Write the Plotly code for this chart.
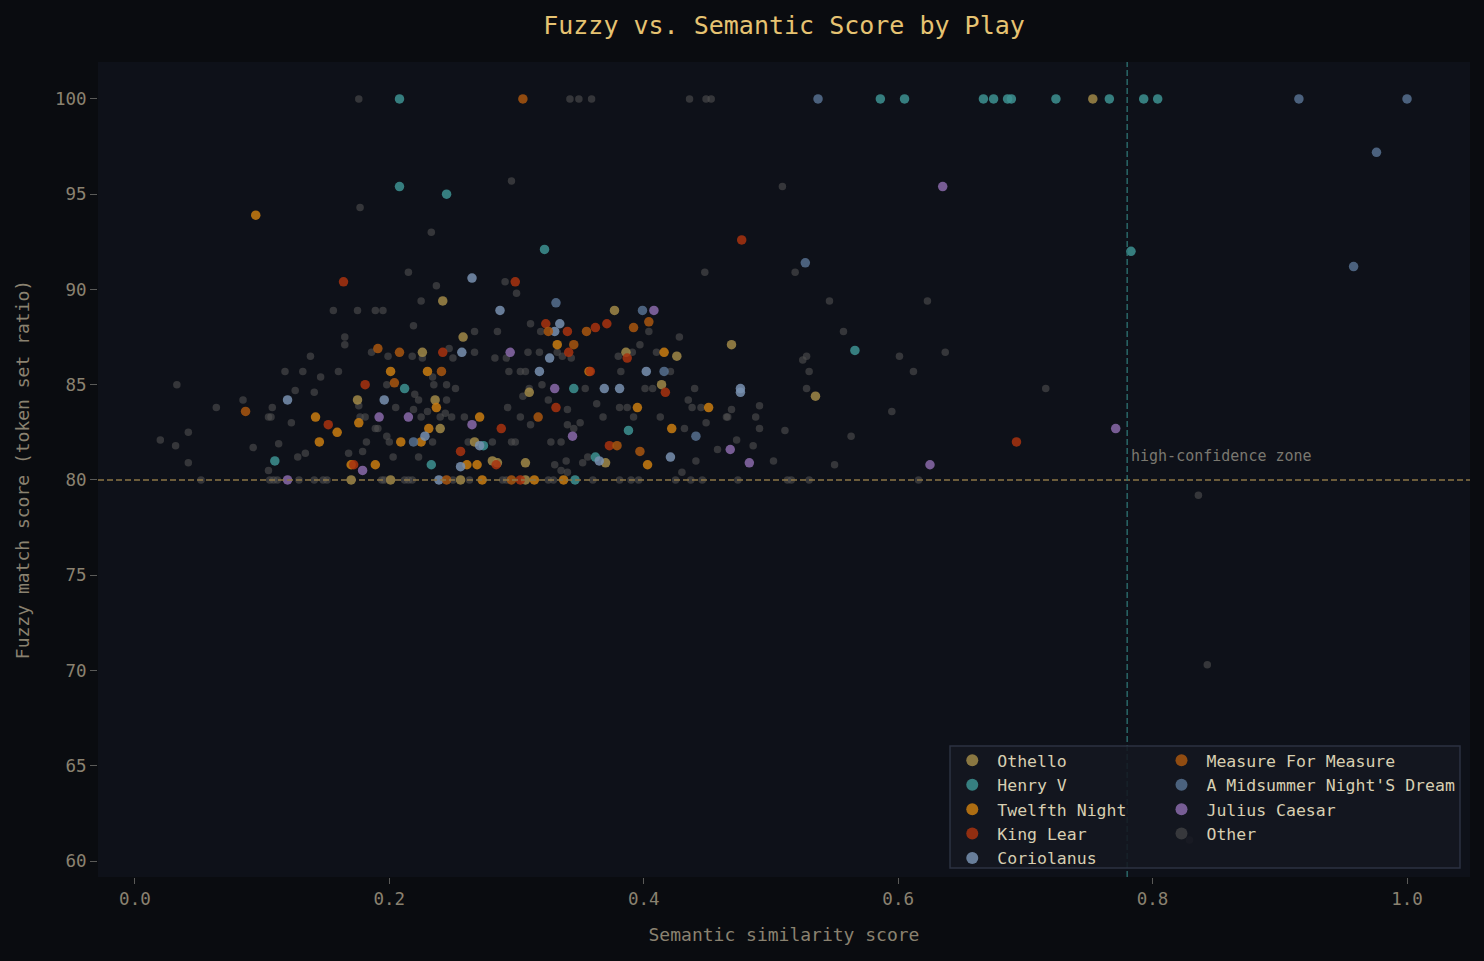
import plotly.graph_objects as go

FONT = "DejaVu Sans Mono"

othello_x = [0.753, 0.242, 0.258, 0.226, 0.175, 0.236, 0.240, 0.267, 0.170, 0.201, 0.256, 0.377, 0.386,
             0.426, 0.414, 0.310, 0.281, 0.285, 0.307, 0.370, 0.469, 0.535, 0.307]
othello_y = [100, 89.4, 87.5, 86.7, 84.2, 84.2, 82.7, 82.0, 80.0, 80.0, 80.0, 88.9, 86.7,
             86.5, 85.0, 84.6, 81.0, 80.9, 80.9, 80.9, 87.1, 84.4, 80.0]

henry_x = [0.208, 0.586, 0.605, 0.667, 0.675, 0.686, 0.689, 0.724, 0.766, 0.793, 0.804,
           0.208, 0.245, 0.322, 0.783, 0.566, 0.212, 0.110, 0.233, 0.274, 0.345, 0.388, 0.362, 0.346]
henry_y = [100, 100, 100, 100, 100, 100, 100, 100, 100, 100, 100,
           95.4, 95.0, 92.1, 92.0, 86.8, 84.8, 81.0, 80.8, 81.8, 84.8, 82.6, 81.2, 80.0]

twelfth_x = [0.095, 0.201, 0.230, 0.237, 0.142, 0.159, 0.176, 0.231, 0.145, 0.209, 0.225, 0.170, 0.189,
             0.261, 0.269, 0.273, 0.332, 0.416, 0.357, 0.395, 0.451, 0.422, 0.271, 0.403, 0.314, 0.337]
twelfth_y = [93.9, 85.7, 85.7, 83.8, 83.3, 82.5, 83.0, 82.7, 82.0, 82.0, 82.0, 80.8, 80.8,
             80.8, 80.8, 80.0, 87.1, 86.7, 85.7, 83.8, 83.8, 82.7, 83.3, 80.8, 80.0, 80.0]

lear_x = [0.164, 0.299, 0.477, 0.242, 0.181, 0.152, 0.256, 0.172, 0.323, 0.362, 0.371, 0.340, 0.341,
          0.387, 0.358, 0.417, 0.331, 0.288, 0.284, 0.373, 0.693, 0.303]
lear_y = [90.4, 90.4, 92.6, 86.7, 85.0, 82.9, 81.5, 80.8, 88.2, 88.0, 88.2, 87.8, 86.7,
          86.4, 85.7, 84.6, 83.8, 82.7, 80.8, 81.8, 82.0, 80.0]

coriolanus_x = [0.265, 0.287, 0.257, 0.196, 0.228, 0.271, 0.256, 0.239, 0.330, 0.326, 0.318, 0.402,
                0.369, 0.381, 0.365, 0.421, 0.476, 0.476, 0.334, 0.120]
coriolanus_y = [90.6, 88.9, 86.7, 84.2, 82.3, 81.8, 80.7, 80.0, 87.8, 86.4, 85.7, 85.7,
                84.8, 84.8, 81.0, 81.2, 84.8, 84.6, 88.2, 84.2]

measure_x = [0.305, 0.087, 0.191, 0.208, 0.241, 0.204, 0.245, 0.392, 0.404, 0.325, 0.345, 0.355,
             0.317, 0.379, 0.397, 0.296]
measure_y = [100, 83.6, 86.9, 86.7, 85.7, 85.1, 80.0, 88.0, 88.3, 87.8, 87.1, 87.8,
             83.3, 81.8, 81.5, 80.0]

midsummer_x = [0.537, 0.915, 1.0, 0.976, 0.958, 0.527, 0.331, 0.399, 0.219, 0.416, 0.441]
midsummer_y = [100, 100, 100, 97.2, 91.2, 91.4, 89.3, 88.9, 82.0, 85.7, 82.3]

julius_x = [0.635, 0.408, 0.295, 0.192, 0.215, 0.265, 0.179, 0.120, 0.330, 0.344, 0.468, 0.483, 0.625, 0.771]
julius_y = [95.4, 88.9, 86.7, 83.3, 83.3, 82.9, 80.5, 80.0, 84.8, 82.3, 81.6, 80.9, 80.8, 82.7]

other_x = [0.176, 0.342, 0.349, 0.359, 0.436, 0.449, 0.453,
           0.296, 0.177, 0.233, 0.215, 0.509,
           0.448, 0.519, 0.546, 0.623, 0.557, 0.601, 0.637, 0.528, 0.525, 0.530, 0.612, 0.716, 0.528,
           0.469, 0.491, 0.466, 0.488, 0.449, 0.491, 0.595, 0.511, 0.563, 0.473, 0.486, 0.458, 0.502, 0.550,
           0.446, 0.474, 0.513, 0.516, 0.530, 0.616,
           0.836, 0.843, 0.829,
           0.237, 0.225, 0.156, 0.175, 0.189, 0.195, 0.267, 0.219, 0.165, 0.165, 0.247, 0.186, 0.199,
           0.218, 0.226, 0.250, 0.267, 0.138, 0.033, 0.118, 0.132, 0.160, 0.146, 0.198, 0.234, 0.235,
           0.245, 0.252, 0.126, 0.141, 0.085, 0.176, 0.220, 0.223, 0.245, 0.064, 0.108, 0.205, 0.219,
           0.230, 0.244, 0.105, 0.107, 0.177, 0.181, 0.225, 0.240, 0.249, 0.259, 0.189, 0.191, 0.123,
           0.020, 0.032, 0.042, 0.093, 0.113, 0.198, 0.200, 0.182, 0.234, 0.262, 0.042, 0.128, 0.134,
           0.105, 0.168, 0.179, 0.203, 0.223,
           0.052, 0.106, 0.109, 0.112, 0.129, 0.141, 0.148, 0.151, 0.194, 0.196, 0.212, 0.215, 0.218,
           0.250, 0.263,
           0.291, 0.300, 0.311, 0.285, 0.309, 0.319, 0.318, 0.332, 0.336, 0.343, 0.283, 0.292, 0.428,
           0.404, 0.397, 0.380, 0.391, 0.410, 0.294, 0.303, 0.307, 0.421, 0.382, 0.354, 0.440, 0.320,
           0.310, 0.305, 0.401, 0.407, 0.363, 0.435, 0.438, 0.445, 0.340, 0.381, 0.387, 0.293, 0.325,
           0.303, 0.368, 0.392, 0.413, 0.432, 0.465, 0.350, 0.340, 0.345, 0.311, 0.299, 0.296, 0.281,
           0.327, 0.335, 0.430, 0.441, 0.330, 0.335, 0.340, 0.339, 0.352, 0.356,
           0.289, 0.292, 0.325, 0.329, 0.360, 0.381, 0.390, 0.396, 0.425, 0.437]
other_y = [100, 100, 100, 100, 100, 100, 100,
           95.7, 94.3, 93.0, 90.9, 95.4,
           90.9, 90.9, 89.4, 89.4, 87.8, 86.5, 86.7, 86.5, 86.3, 85.7, 85.7, 84.8, 84.8,
           83.7, 83.9, 83.3, 83.3, 83.0, 82.7, 83.6, 82.6, 82.3, 82.1, 81.8, 81.6, 81.0, 80.8,
           80.0, 80.0, 80.0, 80.0, 80.0, 80.0,
           79.2, 70.3, 61.1,
           90.2, 89.4, 88.9, 88.9, 88.9, 88.9, 87.8, 88.1, 87.5, 87.1, 86.9, 86.7, 86.5,
           86.5, 86.4, 86.4, 86.7, 86.5, 85.0, 85.7, 85.7, 85.7, 85.4, 85.0, 85.4, 85.0,
           85.0, 84.8, 84.7, 84.6, 84.2, 83.9, 84.5, 84.2, 84.2, 83.8, 83.8, 83.8, 83.7,
           83.6, 83.5, 83.3, 83.3, 83.3, 83.3, 83.3, 83.3, 83.3, 83.3, 82.7, 82.7, 83.0,
           82.1, 81.8, 82.5, 81.7, 81.9, 82.3, 82.0, 82.0, 82.0, 82.0, 80.9, 81.2, 81.4,
           80.5, 81.4, 81.5, 81.2, 81.2,
           80.0, 80.0, 80.0, 80.0, 80.0, 80.0, 80.0, 80.0, 80.0, 80.0, 80.0, 80.0, 80.0,
           80.0, 80.0,
           90.4, 89.8, 88.2, 87.8, 86.7, 87.8, 86.7, 86.7, 86.5, 86.4, 86.4, 86.4, 87.5,
           87.8, 87.1, 86.5, 86.7, 86.7, 85.7, 85.7, 85.7, 85.7, 85.7, 84.8, 84.8, 85.0,
           84.8, 84.4, 84.8, 84.8, 84.0, 84.2, 83.8, 83.8, 83.7, 83.8, 83.8, 83.8, 84.2,
           83.3, 83.3, 83.3, 83.3, 82.7, 83.3, 83.0, 82.9, 82.7, 82.9, 82.0, 82.0, 82.0,
           82.0, 82.0, 80.4, 81.0, 80.8, 80.5, 80.4, 81.0, 80.9, 81.2,
           80.0, 80.0, 80.0, 80.0, 80.0, 80.0, 80.0, 80.0, 80.0, 80.0]

plays = ["Othello", "Henry V", "Twelfth Night", "King Lear", "Coriolanus",
         "Measure For Measure", "A Midsummer Night'S Dream", "Julius Caesar", "Other"]
xs = [othello_x, henry_x, twelfth_x, lear_x, coriolanus_x, measure_x, midsummer_x, julius_x, other_x]
ys = [othello_y, henry_y, twelfth_y, lear_y, coriolanus_y, measure_y, midsummer_y, julius_y, other_y]
colors = ["#a08848", "#3d9292", "#c97c10", "#a8320f", "#7890b0", "#a8560f", "#56708f", "#8a6aaa", "#505050"]

x_ticks = [0.0, 0.2, 0.4, 0.6, 0.8, 1.0]
y_ticks = [60, 65, 70, 75, 80, 85, 90, 95, 100]
fuzzy_threshold = 80
semantic_threshold = 0.78

fig = go.Figure()
# "Other" drawn first (behind)
order = [8, 0, 1, 2, 3, 4, 5, 6, 7]
for i in order:
    is_other = plays[i] == "Other"
    fig.add_trace(go.Scatter(
        x=xs[i], y=ys[i], mode="markers", name=plays[i],
        marker=dict(color=colors[i], size=7.5 if is_other else 9.5,
                    opacity=0.6 if is_other else 0.85, line=dict(width=0)),
        legend="legend" if i < 5 else "legend2",
        legendrank=i + 1,
    ))

axis_font = dict(family=FONT, size=17.5, color="#8a8270")
title_font = dict(family=FONT, size=18, color="#8a8270")
legend_font = dict(family=FONT, size=16.5, color="#d8cfb2")
fig.update_layout(
    width=1484, height=961,
    paper_bgcolor="#0a0c10", plot_bgcolor="#0e1119",
    margin=dict(l=98, r=14, t=62, b=84),
    title=dict(text="Fuzzy vs. Semantic Score by Play", x=0.5, xref="paper",
               y=1 - 25 / 961, yref="container", yanchor="middle",
               font=dict(family=FONT, size=25, color="#e6c372")),
    xaxis=dict(range=[-0.029, 1.0495], tickvals=x_ticks, tickformat=".1f",
               showgrid=False, zeroline=False, showline=False,
               ticks="outside", ticklen=6, tickcolor="#5a5a58", tickfont=axis_font,
               title=dict(text="Semantic similarity score", font=title_font, standoff=20)),
    yaxis=dict(range=[59.16, 101.94], tickvals=y_ticks,
               showgrid=False, zeroline=False, showline=False,
               ticks="outside", ticklen=7, tickcolor="#5a5a58", tickfont=axis_font,
               title=dict(text="Fuzzy match score (token set ratio)", font=title_font, standoff=20)),
    legend=dict(x=0.619, y=0.1644, xanchor="left", yanchor="top", bgcolor="rgba(0,0,0,0)",
                font=legend_font, itemwidth=40, borderwidth=0, itemsizing="constant"),
    legend2=dict(x=0.7715, y=0.1644, xanchor="left", yanchor="top", bgcolor="rgba(0,0,0,0)",
                 font=legend_font, itemwidth=40, borderwidth=0, itemsizing="constant"),
    showlegend=True,
)

fig.add_shape(type="line", xref="paper", x0=0, x1=1, yref="y", y0=fuzzy_threshold, y1=fuzzy_threshold,
              line=dict(color="#8c7645", width=1.5, dash="6px,3px"), layer="above")
fig.add_shape(type="line", xref="x", x0=semantic_threshold, x1=semantic_threshold, yref="paper", y0=0, y1=1,
              line=dict(color="#2e7474", width=1.3, dash="6px,3px"), layer="above")
fig.add_shape(type="rect", xref="paper", yref="paper", x0=0.621, x1=0.9927, y0=0.011, y1=0.1607,
              fillcolor="rgba(20,23,32,0.88)", line=dict(color="#2c3242", width=1.5), layer="above")
fig.add_annotation(x=semantic_threshold, y=81.25, xref="x", yref="y", text="high-confidence zone",
                   showarrow=False, xanchor="left", yanchor="middle", xshift=2,
                   font=dict(family=FONT, size=15, color="#7a7870"))

fig.write_html("out.html")
